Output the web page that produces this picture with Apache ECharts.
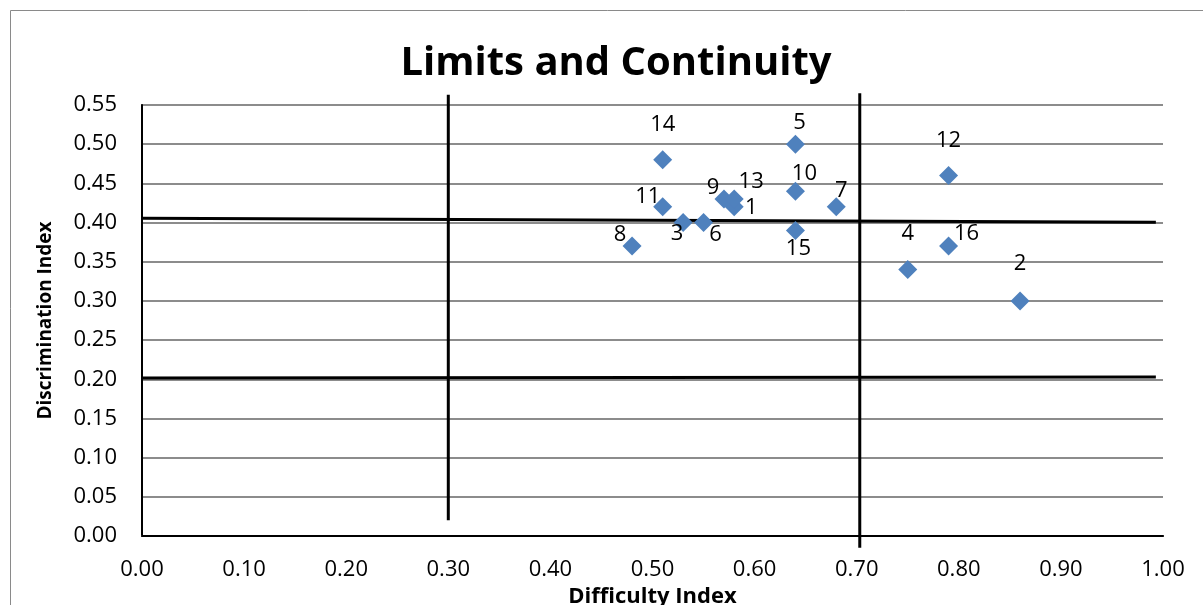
<!DOCTYPE html>
<html>
<head>
<meta charset="utf-8">
<title>Limits and Continuity</title>
<script src="https://cdn.jsdelivr.net/npm/echarts@6/dist/echarts.min.js"></script>
<style>
    html, body { margin: 0; padding: 0; background: #fff; }
    #chart { width: 1203px; height: 605px; }
</style>
</head>
<body>
<div id="chart"></div>
<script>
// item numbers with their difficulty / discrimination index
var items = ['1', '2', '3', '4', '5', '6', '7', '8', '9', '10', '11', '12', '13', '14', '15', '16'];
var difficulty = [0.58, 0.86, 0.53, 0.75, 0.64, 0.55, 0.68, 0.48, 0.57, 0.64, 0.51, 0.79, 0.58, 0.51, 0.64, 0.79];
var discrimination = [0.42, 0.30, 0.40, 0.34, 0.50, 0.40, 0.42, 0.37, 0.43, 0.44, 0.42, 0.46, 0.43, 0.48, 0.39, 0.37];

// hand drawn cut-off lines (data units)
var cutLowX = [[0.30, 0.02], [0.30, 0.563]];
var cutHighX = [[0.703, -0.015], [0.703, 0.565]];
var cutHighY = [[0.0, 0.4055], [0.993, 0.4005]];
var cutLowY = [[0.0, 0.2015], [0.993, 0.203]];

// where each label sits relative to its marker, in px
var labelOffset = {
    '1': [17, 1], '2': [0, -37], '3': [-6, 11], '4': [0, -36],
    '5': [4, -21], '6': [12, 12], '7': [5, -16], '8': [-12, -11],
    '9': [-11, -11], '10': [9, -17], '11': [-15, -10], '12': [0, -35],
    '13': [17, -17], '14': [0, -35], '15': [3, 18], '16': [18, -12]
};

var font = '"Open Sans", sans-serif';

var points = [];
for (var i = 0; i < items.length; i++) {
    points.push({
        name: items[i],
        value: [difficulty[i], discrimination[i]],
        label: { offset: labelOffset[items[i]] }
    });
}

function cutLine(data) {
    return {
        type: 'line',
        data: data,
        symbol: 'none',
        clip: false,
        silent: true,
        z: 3,
        lineStyle: { color: '#000', width: 3 }
    };
}

var myChart = echarts.init(document.getElementById('chart'));
var option = {
    animation: false,
    title: {
        text: 'Limits and Continuity',
        left: 611,
        top: 39,
        textAlign: 'center',
        textStyle: { fontFamily: font, fontSize: 40, fontWeight: 'bold', color: '#000' }
    },
    graphic: [{
        type: 'rect',
        shape: { x: 10.5, y: 10.5, width: 1220, height: 640 },
        style: { fill: 'none', stroke: '#8a8a8a', lineWidth: 1 },
        silent: true
    }],
    grid: { left: 142, right: 40, top: 105, bottom: 69, outerBoundsMode: 'none' },
    xAxis: [{
        type: 'value',
        min: 0, max: 1, interval: 0.1,
        name: 'Difficulty Index',
        nameLocation: 'middle',
        nameGap: 48,
        nameTextStyle: { fontFamily: font, fontSize: 22, fontWeight: 'bold', color: '#000' },
        axisLine: { show: true, lineStyle: { color: '#868686', width: 2 } },
        axisTick: { show: false },
        splitLine: { show: false },
        axisLabel: {
            fontFamily: font, fontSize: 22, color: '#000', margin: 23,
            formatter: function (v) { return v.toFixed(2); }
        }
    }, {
        type: 'value',
        position: 'top',
        min: 0, max: 1,
        axisLine: { show: true, lineStyle: { color: '#000', width: 2 } },
        axisTick: { show: false },
        axisLabel: { show: false },
        splitLine: { show: false }
    }],
    yAxis: [{
        type: 'value',
        min: 0, max: 0.55, interval: 0.05,
        name: 'Discrimination Index',
        nameLocation: 'middle',
        nameGap: 87,
        nameTextStyle: { fontFamily: font, fontSize: 19, fontWeight: 'bold', color: '#000' },
        axisLine: { show: true, lineStyle: { color: '#868686', width: 2 } },
        axisTick: { show: false },
        splitLine: { show: true, lineStyle: { color: '#8c8c8c', width: 2 } },
        axisLabel: {
            fontFamily: font, fontSize: 22, color: '#000', margin: 25,
            formatter: function (v) { return v.toFixed(2); }
        }
    }, {
        type: 'value',
        position: 'right',
        min: 0, max: 0.55,
        axisLine: { show: true, lineStyle: { color: '#000', width: 2 } },
        axisTick: { show: false },
        axisLabel: { show: false },
        splitLine: { show: false }
    }],
    series: [
        cutLine(cutLowX),
        cutLine(cutHighX),
        cutLine(cutHighY),
        cutLine(cutLowY),
        {
            type: 'scatter',
            data: points,
            symbol: 'diamond',
            symbolSize: 19,
            z: 5,
            itemStyle: { color: '#4F81BD', opacity: 1 },
            label: {
                show: true,
                position: 'inside',
                formatter: '{b}',
                fontFamily: font,
                fontSize: 22,
                color: '#000'
            }
        }
    ]
};

myChart.setOption(option);
</script>
</body>
</html>
